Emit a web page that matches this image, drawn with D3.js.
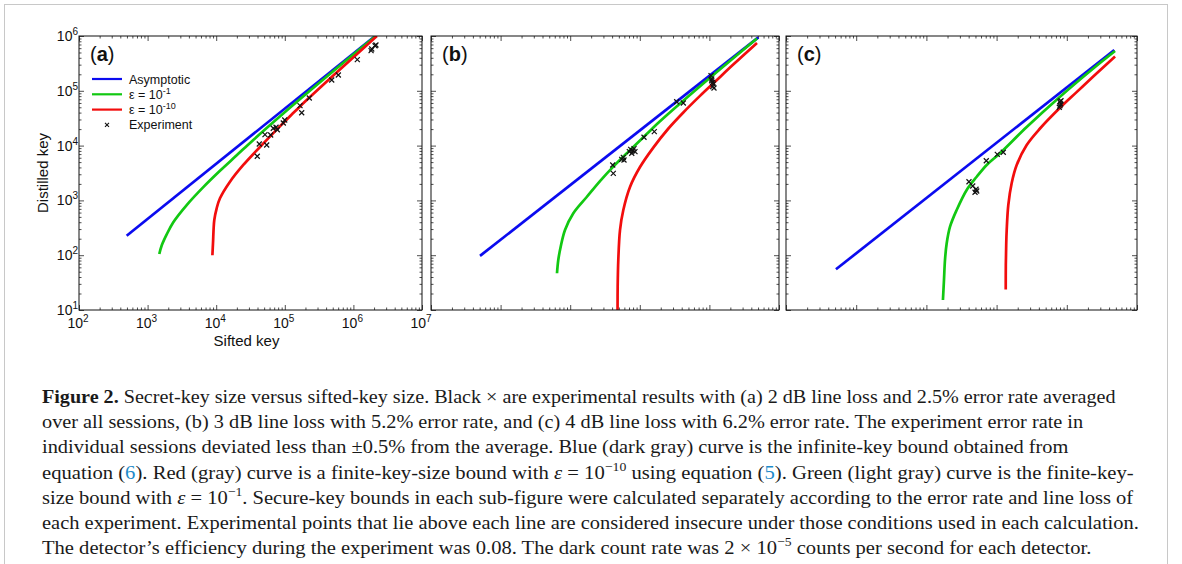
<!DOCTYPE html>
<html lang="en">
<head>
<meta charset="UTF-8">
<title>Secret-key size versus sifted-key size</title>
<script src="https://d3js.org/d3.v7.min.js"></script>
<style>
  body { margin: 0; background: #fff; }
  .lbl { font-family: "Liberation Sans", Arial, sans-serif; fill: #111; }
  .caption { font-family: "Liberation Serif", "DejaVu Serif", serif; font-size: 19.5px; fill: #1a1a1a; }
</style>
</head>
<body>
<svg id="fig" width="1182" height="564"></svg>
<script>
// ---- data: [sifted key, distilled key] ----
const blueA  = [[495, 227], [2.08e6, 1.0e6]];
const greenA = [[1481, 105], [1605, 150], [1898, 239], [2369, 400], [3715, 824], [6486, 1750],
                [11350, 3480], [19900, 6650], [34750, 12700], [95000, 38550], [291700, 127600], [2.12e6, 1.0e6]];
const redA   = [[8800, 100], [8980, 165], [9380, 439], [10160, 718], [11350, 1092], [15880, 2193],
                [24830, 4430], [43450, 9420], [76200, 19590], [126200, 36980], [166700, 51900],
                [509000, 189300], [2.2e6, 1.0e6]];
const expA   = [[39700, 6380], [42460, 10690], [54450, 10260], [51420, 15810], [62230, 15600],
                [67920, 20700], [74500, 21600], [77770, 19500], [95100, 25800], [99700, 29300],
                [166700, 53500], [176300, 39800], [227500, 73900], [483000, 157400], [603000, 194000],
                [1.14e6, 370000], [1.81e6, 540000], [1.85e6, 580000], [2.07e6, 665000], [2.13e6, 686000]];

const blueB  = [[506, 97], [5.05e6, 946000]];
const greenB = [[6460, 46.8], [6740, 81.7], [7300, 143], [8420, 288], [11090, 582], [17270, 1153],
                [26800, 2250], [41600, 4140], [72300, 8260], [125600, 16250], [195000, 27700],
                [1.02e6, 172600], [4.83e6, 900000]];
const redB   = [[47900, 10], [48100, 26.6], [49100, 81.7], [51950, 288], [57970, 668], [72300, 1758],
                [100700, 4060], [156300, 9200], [254300, 20090], [421900, 40180], [732600, 80700],
                [1.27e6, 156000], [2.2e6, 300600], [4.83e6, 745000]];
const expB   = [[40800, 4430], [41600, 3120], [54950, 5620], [57950, 6110], [59300, 5460], [70700, 7740],
                [74000, 8560], [79000, 8070], [82550, 8780], [76600, 7250], [85300, 7740], [114900, 14190],
                [161500, 17970], [338800, 63200], [422000, 59900], [1.055e6, 188800], [1.08e6, 164200],
                [1.115e6, 142900], [1.137e6, 133000], [1.115e6, 118800], [1.164e6, 112400], [1.08e6, 152800]];

const blueC  = [[515, 55.3], [4.75e6, 556000]];
const greenC = [[17200, 15.2], [17800, 35.2], [18400, 81.7], [19460, 165], [21700, 331], [27000, 668],
                [37500, 1550], [52100, 2700], [72300, 4430], [111800, 7250], [268400, 21800],
                [800000, 77800], [2.38e6, 255000], [4.87e6, 532000]];
const redC   = [[134900, 23.7], [135300, 66.2], [137000, 153], [139300, 288], [146800, 824], [164100, 2080],
                [193300, 4430], [268300, 10260], [415100, 20500], [800000, 48950], [1.38e6, 94600],
                [2.38e6, 182400], [4.87e6, 424600]];
const expC   = [[40400, 2190], [45700, 1830], [50900, 1595], [49300, 1407], [52100, 1487], [71300, 5300],
                [102300, 6930], [124500, 7550], [800000, 63200], [800000, 53500], [782000, 50000],
                [818000, 57400], [826000, 65900]];

const xTicks = [1e2, 1e3, 1e4, 1e5, 1e6, 1e7];
const yTicks = [1e1, 1e2, 1e3, 1e4, 1e5, 1e6];
const legendLabels = ["Asymptotic", "ε = 10", "ε = 10", "Experiment"];
const legendExp = ["", "-1", "-10", ""];

const colors = { blue: "#0b0bef", green: "#12c812", red: "#f20d0d" };

const svg = d3.select("#fig");
svg.append("rect").attr("width", 1182).attr("height", 564).attr("fill", "#fff");
// outer figure frame
svg.append("rect").attr("x", 4.5).attr("y", 4.5).attr("width", 1163).attr("height", 580)
  .attr("fill", "none").attr("stroke", "#c8c8c8").attr("stroke-width", 1);

const panels = [
  { id: "a", left: 79, right: 422, blue: blueA, green: greenA, red: redA, exp: expA, labels: true },
  { id: "b", left: 431, right: 779, blue: blueB, green: greenB, red: redB, exp: expB, labels: false },
  { id: "c", left: 786, right: 1137, blue: blueC, green: greenC, red: redC, exp: expC, labels: false }
];
const plotTop = 36, plotBottom = 310;

const minorOf = (lo, hi) => d3.range(Math.log10(lo), Math.log10(hi))
  .flatMap(e => d3.range(2, 10).map(m => m * Math.pow(10, e)));

panels.forEach(p => {
  const x = d3.scaleLog().domain([1e2, 1e7]).range([p.left, p.right]);
  const y = d3.scaleLog().domain([1e1, 1e6]).range([plotBottom, plotTop]);
  const g = svg.append("g");
  const w = p.right - p.left, h = plotBottom - plotTop;

  g.append("clipPath").attr("id", "clip-" + p.id)
    .append("rect").attr("x", p.left).attr("y", plotTop).attr("width", w).attr("height", h);

  // inward ticks on all four sides
  const xMinor = minorOf(1e2, 1e7), yMinor = minorOf(1e1, 1e6);
  const addAxis = (axisFn, scale, vals, size, tr) => {
    const a = g.append("g").attr("transform", tr)
      .call(axisFn(scale).tickValues(vals).tickSize(-size).tickFormat(""));
    a.select(".domain").remove();
    a.selectAll("line").attr("stroke", "#222").attr("stroke-width", 0.8);
  };
  [[xTicks, 5], [xMinor, 2.5]].forEach(([v, s]) => {
    addAxis(d3.axisBottom, x, v, s, `translate(0,${plotBottom})`);
    addAxis(d3.axisTop, x, v, s, `translate(0,${plotTop})`);
  });
  [[yTicks, 5], [yMinor, 2.5]].forEach(([v, s]) => {
    addAxis(d3.axisLeft, y, v, s, `translate(${p.left},0)`);
    addAxis(d3.axisRight, y, v, s, `translate(${p.right},0)`);
  });

  const line = d3.line().x(d => x(d[0])).y(d => y(d[1])).curve(d3.curveCatmullRom.alpha(0.5));
  const curves = g.append("g").attr("clip-path", `url(#clip-${p.id})`);
  [["blue", p.blue], ["green", p.green], ["red", p.red]].forEach(([c, data]) => {
    curves.append("path").datum(data).attr("d", line)
      .attr("fill", "none").attr("stroke", colors[c]).attr("stroke-width", 2.7)
      .attr("stroke-linecap", "butt");
  });

  curves.selectAll(".pt").data(p.exp).enter().append("path")
    .attr("transform", d => `translate(${x(d[0])},${y(d[1])})`)
    .attr("d", "M-2.5,-2.5L2.5,2.5M-2.5,2.5L2.5,-2.5")
    .attr("stroke", "#111").attr("stroke-width", 1.2);

  g.append("rect").attr("x", p.left).attr("y", plotTop).attr("width", w).attr("height", h)
    .attr("fill", "none").attr("stroke", "#111").attr("stroke-width", 1);

  // panel letter
  const pl = g.append("text").attr("class", "lbl").attr("x", p.left + 11).attr("y", plotTop + 25)
    .style("font-size", "20px");
  pl.append("tspan").text("(");
  pl.append("tspan").style("font-weight", "bold").text(p.id);
  pl.append("tspan").text(")");

  if (p.labels) {
    xTicks.forEach(v => {
      const t = g.append("text").attr("class", "lbl").attr("x", x(v) - 1).attr("y", plotBottom + 18)
        .attr("text-anchor", "middle").style("font-size", "14px");
      t.append("tspan").text("10");
      t.append("tspan").attr("dy", -6).style("font-size", "10px").text(Math.round(Math.log10(v)));
    });
    yTicks.forEach(v => {
      const t = g.append("text").attr("class", "lbl").attr("x", p.left - 1).attr("y", y(v) + 5)
        .attr("text-anchor", "end").style("font-size", "14px");
      t.append("tspan").text("10");
      t.append("tspan").attr("dy", -6).style("font-size", "10px").text(Math.round(Math.log10(v)));
    });
    g.append("text").attr("class", "lbl").attr("x", (p.left + p.right) / 2 - 4).attr("y", plotBottom + 36)
      .attr("text-anchor", "middle").style("font-size", "15px").text("Sifted key");
    g.append("text").attr("class", "lbl")
      .attr("transform", `translate(48,${(plotTop + plotBottom) / 2}) rotate(-90)`)
      .attr("text-anchor", "middle").style("font-size", "15px").text("Distilled key");

    // legend
    const lg = g.append("g").attr("transform", `translate(${p.left + 13},79)`);
    ["blue", "green", "red", null].forEach((c, i) => {
      const yy = i * 15.3;
      if (c) {
        lg.append("line").attr("x1", 0).attr("x2", 30).attr("y1", yy).attr("y2", yy)
          .attr("stroke", colors[c]).attr("stroke-width", 2.2);
      } else {
        lg.append("path").attr("transform", `translate(15,${yy})`)
          .attr("d", "M-2,-2L2,2M-2,2L2,-2").attr("stroke", "#111").attr("stroke-width", 1.1);
      }
      const t = lg.append("text").attr("class", "lbl").attr("x", 37).attr("y", yy + 4.5)
        .style("font-size", "12.5px").text(legendLabels[i]);
      if (legendExp[i]) t.append("tspan").attr("dy", -5).style("font-size", "9px").text(legendExp[i]);
    });
  }
});

// ---- caption ----
const linkBlue = "#1d8ac9";
const captionLines = [
  [{ t: "Figure 2.", b: true }, { t: " Secret-key size versus sifted-key size. Black × are experimental results with (a) 2 dB line loss and 2.5% error rate averaged" }],
  [{ t: "over all sessions, (b) 3 dB line loss with 5.2% error rate, and (c) 4 dB line loss with 6.2% error rate. The experiment error rate in" }],
  [{ t: "individual sessions deviated less than ±0.5% from the average. Blue (dark gray) curve is the infinite-key bound obtained from" }],
  [{ t: "equation (" }, { t: "6", c: linkBlue }, { t: "). Red (gray) curve is a finite-key-size bound with " }, { t: "ε", i: true },
   { t: " = 10" }, { t: "−10", sup: true }, { t: " using equation (" }, { t: "5", c: linkBlue },
   { t: "). Green (light gray) curve is the finite-key-" }],
  [{ t: "size bound with " }, { t: "ε", i: true }, { t: " = 10" }, { t: "−1", sup: true },
   { t: ". Secure-key bounds in each sub-figure were calculated separately according to the error rate and line loss of" }],
  [{ t: "each experiment. Experimental points that lie above each line are considered insecure under those conditions used in each calculation." }],
  [{ t: "The detector’s efficiency during the experiment was 0.08. The dark count rate was 2 × 10" }, { t: "−5", sup: true },
   { t: " counts per second for each detector." }]
];
// right edge of each caption line in the figure
const captionRight = [1117, 1084, 1069, 1134, 1135, 1140, 1092];
const capLeft = 42;
captionLines.forEach((segs, i) => {
  const t = svg.append("text").attr("class", "caption").attr("x", capLeft).attr("y", 403 + i * 25.2);
  let raised = false;
  segs.forEach(s => {
    const ts = t.append("tspan").text(s.t);
    if (s.b) ts.style("font-weight", "bold");
    if (s.i) ts.style("font-style", "italic");
    if (s.c) ts.attr("fill", s.c);
    if (s.sup) { ts.attr("dy", -8).style("font-size", "13px"); raised = true; }
    else if (raised) { ts.attr("dy", 8); raised = false; }
  });
  const wNat = t.node().getBBox().width;
  const k = (captionRight[i] - capLeft) / wNat;
  t.attr("transform", `translate(${capLeft},0) scale(${k},1) translate(${-capLeft},0)`);
});
</script>
</body>
</html>
